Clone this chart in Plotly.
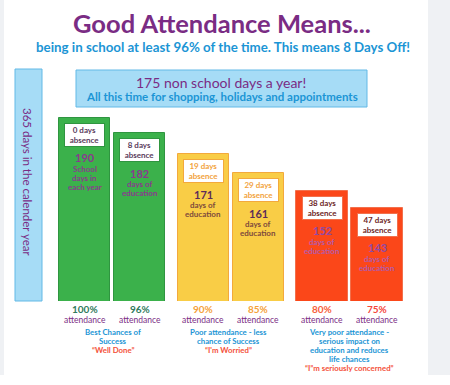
import plotly.graph_objects as go

# ---------------- data ----------------
attendance_pct = [100, 96, 90, 85, 80, 75]
absence_days = [0, 8, 19, 29, 38, 47]
education_days = [190, 182, 171, 161, 152, 143]
education_text = ["School|days in|each year", "days of|education", "days of|education",
                  "days of|education", "days of|education", "days of|education"]
group_captions = [
    ["Best Chances of", "Success"],
    ["Poor attendance - less", "chance of Success"],
    ["Very poor attendance -", "serious impact on", "education and reduces", "life chances"],
]
group_quotes = ["\u201cWell Done\u201d", "\u201cI'm Worried\u201d", "\u201cI\u201dm seriously concerned\u201d"]
title_text = "Good Attendance Means..."
subtitle_text = "being in school at least 96% of the time. This means 8 Days Off!"
banner_line1 = "175 non school days a year!"
banner_line2 = "All this time for shopping, holidays and appointments"
year_text = "365 days in the calender year"

# ---------------- styles ----------------
W, H = 450, 385
BASE_PX, TOP_PX = 301, 69
FONT = "Lato"
PURPLE = "#7a2c84"
BLUE = "#1b95d5"
QUOTE_RED = "#f4513a"
group_fill = ["#3bb14b", "#f9cd46", "#fb4719"]
group_line = ["#2f9540", "#f3a93c", "#f2704c"]
box_text = ["#5a3b5c", "#f2a23c", "#6e2626"]
num_color = ["#8a3a8e", "#5d2b59", "#8f4aa6"]
sub_color = ["#8a3a8e", "#7d4a3c", "#b45aa8"]
pct_color = ["#2f7a5c", "#2f7a5c", "#f5a23a", "#f5a23a", "#f7603a", "#f5473c"]


def py(p):
    return (BASE_PX - p) / (BASE_PX - TOP_PX)


def pxp(p):
    return p / W


n = len(education_days)
grp = [i // 2 for i in range(n)]
xpos = [84.5 + 118.75 * (i // 2) + 55 * (i % 2) for i in range(n)]

fig = go.Figure()
fig.add_trace(go.Bar(
    x=xpos, y=education_days, width=51.5,
    marker=dict(color=[group_fill[g] for g in grp],
                line=dict(color=[group_line[g] for g in grp], width=1)),
    hoverinfo="skip", showlegend=False,
))

shapes = []
# grey page strips
shapes.append(dict(type="rect", xref="paper", yref="paper", x0=pxp(428), x1=1,
                   y0=py(375), y1=py(0), fillcolor="#eff1f4", line_width=0, layer="below"))
shapes.append(dict(type="rect", xref="paper", yref="paper", x0=0, x1=pxp(4),
                   y0=py(375), y1=py(0), fillcolor="#eff1f4", line_width=0, layer="below"))
# 365 day column
shapes.append(dict(type="rect", xref="paper", yref="paper", x0=pxp(15), x1=pxp(42),
                   y0=py(301), y1=py(69), fillcolor="#a6dcf6",
                   line=dict(color="#62b9e6", width=1), layer="below"))
# banner
shapes.append(dict(type="rect", xref="paper", yref="paper", x0=pxp(76), x1=pxp(367),
                   y0=py(107), y1=py(70), fillcolor="#a6dcf6",
                   line=dict(color="#62b9e6", width=1), layer="below"))

ann = []


def text(x, y, t, size, color, bold=True, **kw):
    s = f"<b>{t}</b>" if bold else t
    d = dict(xref="paper", yref="paper", x=pxp(x), y=py(y), text=s, showarrow=False,
             font=dict(family=FONT, size=size, color=color), xanchor="center", yanchor="middle")
    d.update(kw)
    ann.append(d)


text(222, 23, title_text, 25.5, PURPLE)
text(223, 47, subtitle_text, 13.3, BLUE)
text(221, 82, banner_line1, 14, PURPLE, bold=False)
text(222, 96, banner_line2, 11.5, BLUE)
text(28, 182, year_text, 11.5, PURPLE, bold=False, textangle=90)

for i in range(n):
    g = grp[i]
    ann.append(dict(xref="x", yref="y", x=xpos[i], y=education_days[i], yshift=-17,
                    text=f"<b>{absence_days[i]} days<br>absence</b>", showarrow=False,
                    font=dict(family=FONT, size=8, color=box_text[g]),
                    bgcolor="white", bordercolor=group_line[g], borderwidth=1, borderpad=1,
                    width=37, height=20, yanchor="middle"))
    ann.append(dict(xref="x", yref="y", x=xpos[i], y=education_days[i], yshift=-40,
                    text=f"<b>{education_days[i]}</b>", showarrow=False,
                    font=dict(family=FONT, size=11, color=num_color[g]), yanchor="middle"))
    for k, line in enumerate(education_text[i].split("|")):
        ann.append(dict(xref="x", yref="y", x=xpos[i], y=education_days[i], yshift=-51 - 9 * k,
                        text=f"<b>{line}</b>", showarrow=False,
                        font=dict(family=FONT, size=8, color=sub_color[g]), yanchor="middle"))
    text(xpos[i], 308.8, f"{attendance_pct[i]}%", 10, pct_color[i])
    text(xpos[i], 319.6, "attendance", 8.5, PURPLE, bold=False)

cap_x = [113, 228, 349]
for g in range(3):
    lines = group_captions[g]
    for k, line in enumerate(lines):
        text(cap_x[g], 332.2 + 9.0 * k, line, 7.8, BLUE)
    text(cap_x[g], 332.2 + 9.0 * len(lines), group_quotes[g], 7.8, QUOTE_RED)

fig.update_layout(
    width=W, height=H,
    margin=dict(l=0, r=0, t=TOP_PX, b=H - BASE_PX, pad=0),
    paper_bgcolor="white", plot_bgcolor="rgba(0,0,0,0)",
    xaxis=dict(range=[0, W], visible=False, fixedrange=True),
    yaxis=dict(range=[94.4, 215.5], visible=False, fixedrange=True),
    shapes=shapes, annotations=ann, bargap=0,
)
fig.write_html("out.html", post_script="document.body.style.margin='0';",
               config={"displayModeBar": False})
